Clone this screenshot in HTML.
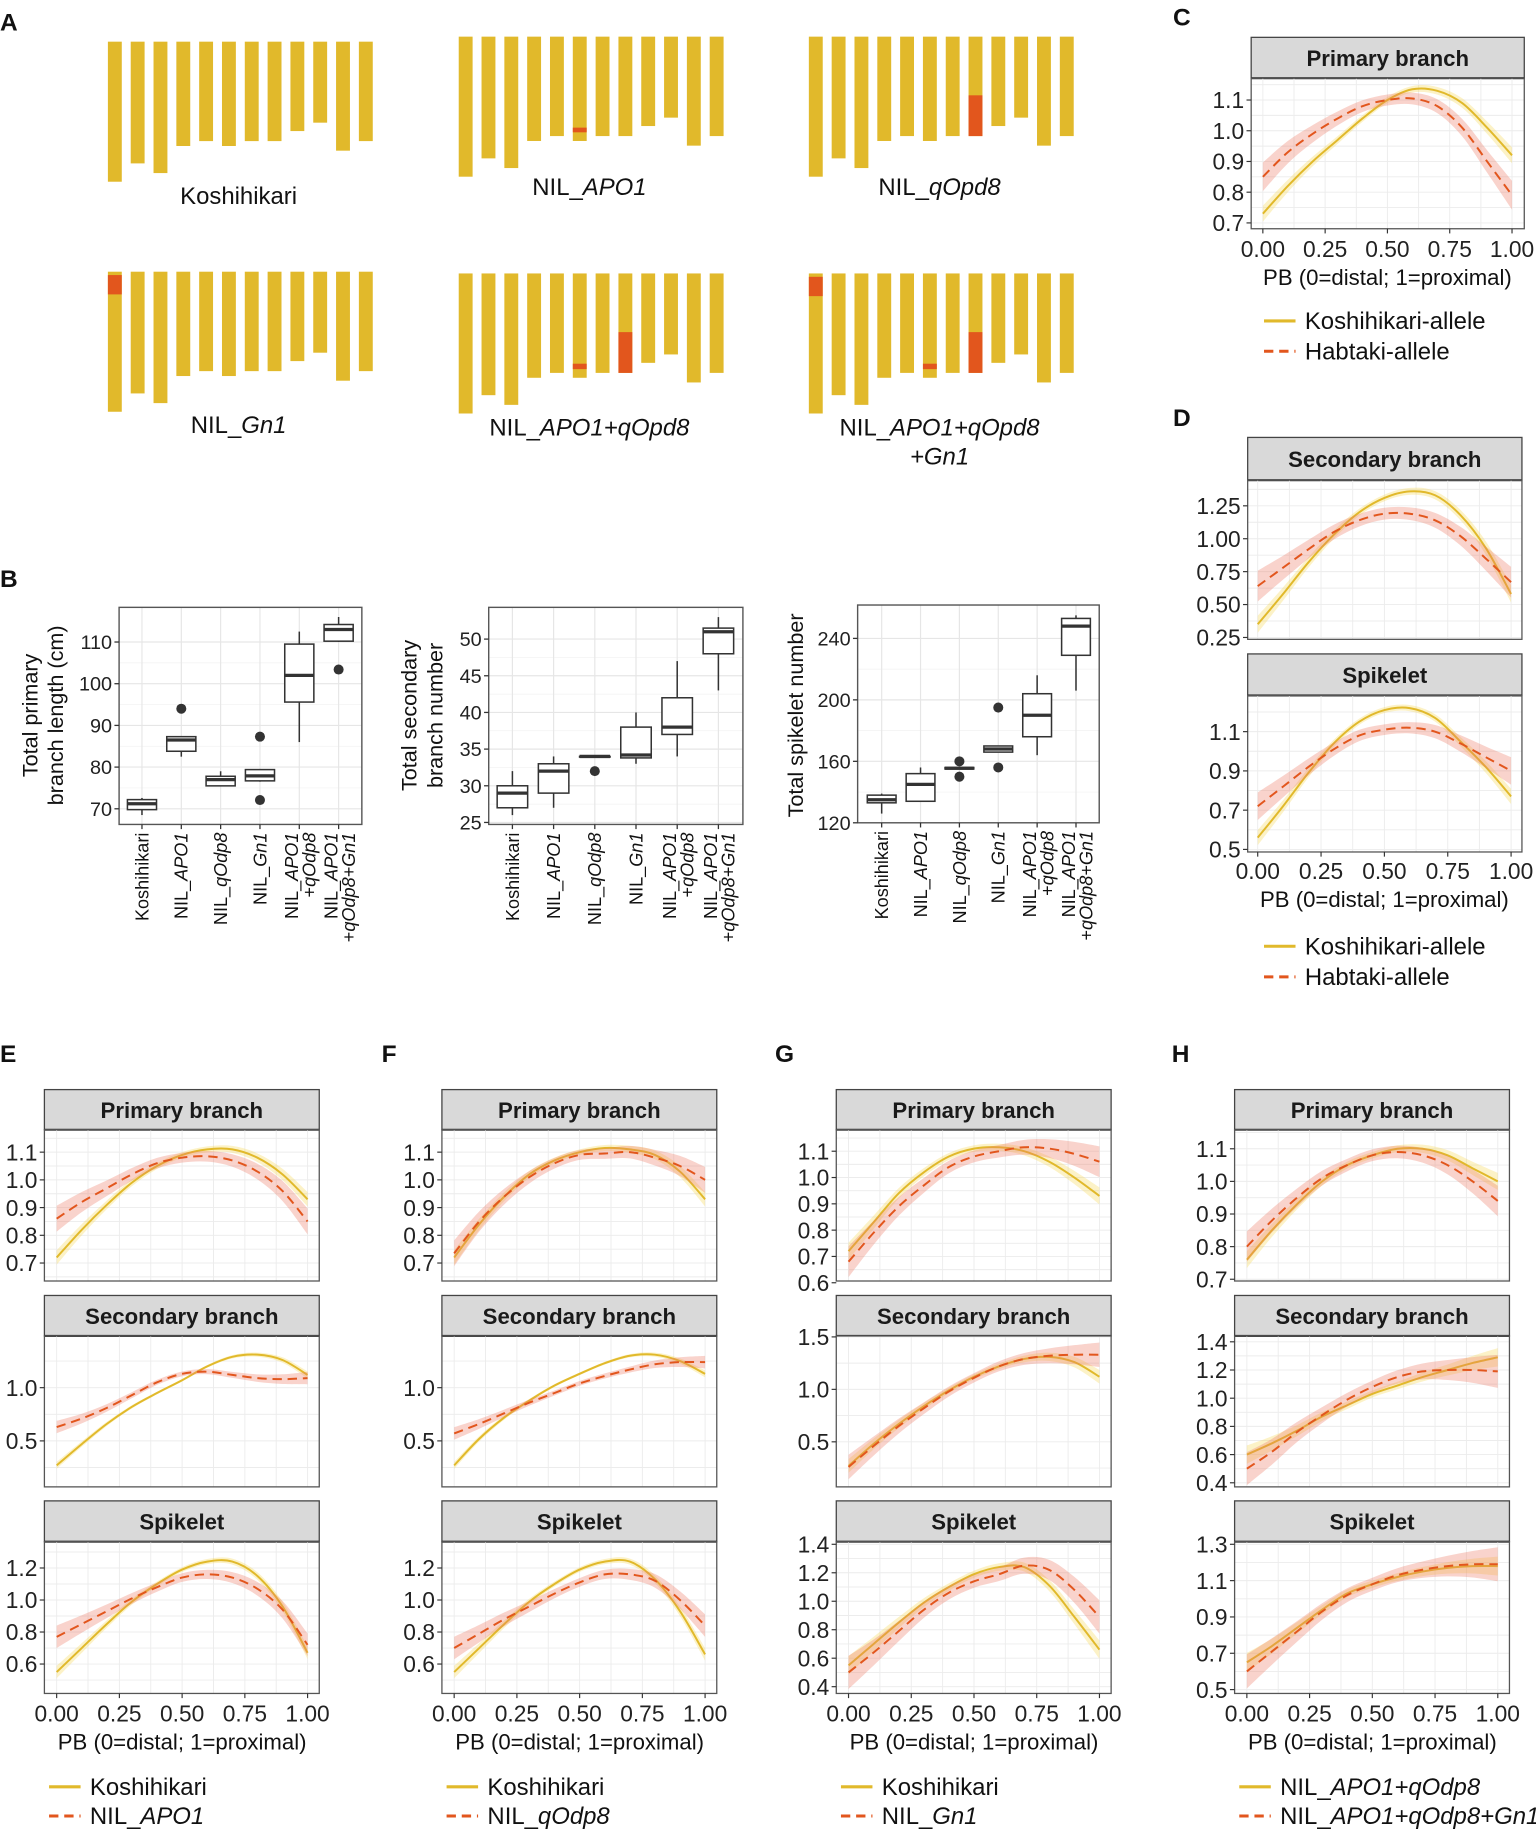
<!DOCTYPE html>
<html><head><meta charset="utf-8">
<style>
html,body{margin:0;padding:0;background:#fff;}
svg{display:block;font-family:"Liberation Sans",Arial,sans-serif;}
</style></head>
<body>
<svg id="fig" width="1536" height="1830" viewBox="0 0 1316 1568" xmlns="http://www.w3.org/2000/svg"></svg>
<script>
// ---------- DATA ----------
// Panel A chromosome lengths (display units) and introgression segments
const chromLengths = [120,104.3,112.6,89.4,85.2,89.4,85.2,85.2,76.6,69.4,93.4,85.2];
// Panel B
const bCategories = ["Koshihikari","NIL_APO1","NIL_qOdp8","NIL_Gn1","NIL_APO1+qOdp8","NIL_APO1+qOdp8+Gn1"];
const b1Stats = [[68.5,69.8,71.2,72.2,72.6],[82.5,83.8,86.5,87.3,87.3],[75.5,75.5,77,77.8,79],[76.5,76.7,77.9,79.4,79.4],[86,95.6,102,109.5,112.5],[110,110.2,113,114.2,116]];
const b1Outliers = [[],[94],[],[87.3,72.1],[],[103.4]];
const b1Ticks = [70,80,90,100,110];
const b2Stats = [[26,27,29,30,32],[27,29,32,33,34],[34,34,34,34,34],[33,33.8,34.2,38,40],[34,37,38,42,47],[43,48,51,51.5,53]];
const b2Outliers = [[],[],[32],[],[],[]];
const b2Ticks = [25,30,35,40,45,50];
const b3Stats = [[126,133,135,138,139],[134,134,145,152,156],[155,155,155.5,156,156],[166,166,168,170,170],[164,176,190,204,216],[206,229,248,253,255]];
const b3Outliers = [[],[],[160,150],[195,156],[],[]];
const b3Ticks = [120,160,200,240];
// Curve panels: PB positions
const pbPositions = [0,0.1,0.2,0.3,0.4,0.5,0.6,0.7,0.8,0.9,1.0];
const xTickValues = [0,0.25,0.5,0.75,1.0];
const xTickLabels = ["0.00","0.25","0.50","0.75","1.00"];
const cPrimK = [0.73,0.82,0.90,0.97,1.04,1.10,1.135,1.13,1.09,1.01,0.92];
const cPrimH = [0.85,0.93,0.99,1.04,1.08,1.10,1.105,1.08,1.01,0.90,0.79];
const dSecK = [0.35,0.58,0.82,1.03,1.20,1.31,1.36,1.33,1.18,0.93,0.58];
const dSecH = [0.64,0.78,0.92,1.05,1.14,1.19,1.19,1.14,1.02,0.85,0.67];
const dSpkK = [0.56,0.72,0.89,1.04,1.15,1.21,1.22,1.17,1.05,0.92,0.77];
const dSpkH = [0.72,0.82,0.92,1.01,1.08,1.11,1.12,1.10,1.04,0.97,0.90];
const ePrimK = [0.72,0.82,0.91,0.99,1.05,1.09,1.11,1.11,1.08,1.02,0.93];
const ePrimN = [0.86,0.92,0.97,1.02,1.06,1.08,1.085,1.07,1.03,0.96,0.85];
const eSecK = [0.27,0.47,0.66,0.82,0.95,1.07,1.20,1.29,1.31,1.26,1.12];
const eSecN = [0.63,0.71,0.81,0.93,1.05,1.13,1.15,1.12,1.09,1.08,1.09];
const eSpkK = [0.55,0.70,0.85,0.99,1.10,1.19,1.24,1.24,1.15,0.96,0.67];
const eSpkN = [0.77,0.85,0.93,1.01,1.08,1.14,1.16,1.14,1.07,0.94,0.72];
const fPrimK = [0.72,0.84,0.94,1.02,1.07,1.10,1.115,1.11,1.09,1.03,0.93];
const fPrimN = [0.735,0.85,0.94,1.01,1.06,1.09,1.095,1.10,1.08,1.05,1.00];
const fSecK = [0.27,0.52,0.72,0.88,1.02,1.13,1.23,1.30,1.31,1.25,1.13];
const fSecN = [0.57,0.66,0.76,0.86,0.95,1.04,1.11,1.17,1.22,1.24,1.24];
const fSpkK = [0.55,0.70,0.85,0.99,1.10,1.19,1.24,1.24,1.13,0.93,0.66];
const fSpkN = [0.70,0.79,0.88,0.96,1.04,1.11,1.16,1.16,1.12,1.00,0.84];
const gPrimK = [0.72,0.83,0.94,1.02,1.08,1.11,1.115,1.10,1.06,1.00,0.93];
const gPrimN = [0.68,0.79,0.89,0.97,1.04,1.08,1.10,1.115,1.11,1.09,1.06];
const gSecK = [0.27,0.48,0.67,0.84,0.99,1.12,1.22,1.29,1.31,1.26,1.12];
const gSecN = [0.26,0.46,0.65,0.82,0.98,1.11,1.22,1.29,1.32,1.33,1.33];
const gSpkK = [0.55,0.70,0.85,0.99,1.10,1.19,1.24,1.24,1.11,0.89,0.66];
const gSpkN = [0.50,0.64,0.79,0.94,1.06,1.14,1.19,1.25,1.22,1.08,0.89];
const hPrimK = [0.76,0.85,0.93,1.00,1.05,1.08,1.10,1.10,1.08,1.04,1.00];
const hPrimN = [0.80,0.88,0.95,1.01,1.05,1.08,1.09,1.08,1.05,1.00,0.94];
const hSecK = [0.60,0.68,0.77,0.87,0.95,1.03,1.09,1.15,1.20,1.25,1.29];
const hSecN = [0.50,0.62,0.76,0.88,0.99,1.08,1.15,1.19,1.20,1.20,1.19];
const hSpkK = [0.65,0.74,0.84,0.94,1.03,1.08,1.12,1.15,1.17,1.18,1.18];
const hSpkN = [0.60,0.71,0.82,0.93,1.02,1.08,1.13,1.16,1.18,1.19,1.19];

// ---------- HELPERS ----------
const NS = "http://www.w3.org/2000/svg";
const svg = document.getElementById("fig");
function mk(tag, attrs, parent){
  const e = document.createElementNS(NS, tag);
  for (const k in attrs) e.setAttribute(k, attrs[k]);
  (parent||svg).appendChild(e);
  return e;
}
function txt(str, x, y, size, opts, parent){
  opts = opts||{};
  const t = mk("text", {x:x, y:y, "font-size":size, fill:opts.fill||"#111", "text-anchor":opts.anchor||"start"}, parent);
  if (opts.weight) t.setAttribute("font-weight", opts.weight);
  if (opts.transform) t.setAttribute("transform", opts.transform);
  const parts = str.split("*");
  parts.forEach((p,i)=>{
    if(!p) return;
    const s = mk("tspan", {}, t);
    if (i%2===1) s.setAttribute("font-style","italic");
    s.textContent = p;
  });
  return t;
}
const YEL = "#e1b92b", RED = "#e2561d";

// panel letters
[["A",0,26],["B",0,503],["C",1005,22],["D",1005,365],["E",0,910],["F",327,910],["G",664,910],["H",1004,910]].forEach(l=>{
  const t = txt(l[0], l[1], l[2], 21, {weight:"bold"});
  
  
});

// ---------- PANEL A ----------
const genoGroups = [
  {x:92.4, top:35.7, label:["Koshihikari"], ly:175, segs:[]},
  {x:393, top:31.4, label:["NIL_*APO1*"], ly:167, segs:[[5,0.872,0.917]]},
  {x:693, top:31.4, label:["NIL_*qOpd8*"], ly:167, segs:[[7,0.59,1.0]]},
  {x:92.4, top:232.8, label:["NIL_*Gn1*"], ly:371, segs:[[0,0.024,0.162]]},
  {x:393, top:234.3, label:["NIL_*APO1+qOpd8*"], ly:373, segs:[[5,0.865,0.917],[7,0.59,1.0]]},
  {x:693, top:234.3, label:["NIL_*APO1+qOpd8*","*+Gn1*"], ly:373, segs:[[0,0.024,0.162],[5,0.865,0.917],[7,0.59,1.0]]}
];
genoGroups.forEach((g,gi)=>{
  const grp = mk("g", {});
  
  
  chromLengths.forEach((L,i)=>{
    const bx = g.x + i*19.55;
    const r = mk("rect", {x:bx, y:g.top, width:11.9, height:L, fill:YEL}, grp);
    
    
  });
  g.segs.forEach(s=>{
    const L = chromLengths[s[0]];
    const r = mk("rect", {x:g.x + s[0]*19.55, y:g.top + L*s[1], width:11.9, height:L*(s[2]-s[1]), fill:RED}, grp);
    
    
  });
  g.label.forEach((lb,li)=>{
    const t = txt(lb, g.x+112, g.ly + li*25, 20.5, {anchor:"middle"}, grp);
    
    
  });
});

// ---------- PANEL B ----------
const catLabels = [["Koshihikari"],["NIL_*APO1*"],["NIL_*qOdp8*"],["NIL_*Gn1*"],["NIL_*APO1*","+*qOdp8*"],["NIL_*APO1*","+*qOdp8+Gn1*"]];
function boxPanel(cfg, stats, outliers, ticks, name){
  const g = mk("g", {});
  
  
  const ys = v => cfg.yA[1] + (v-cfg.yA[0])*(cfg.yB[1]-cfg.yA[1])/(cfg.yB[0]-cfg.yA[0]);
  const xs = i => cfg.c0 + i*cfg.pitch;
  mk("rect", {x:cfg.left, y:cfg.top, width:cfg.right-cfg.left, height:cfg.bot-cfg.top, fill:"#fff"}, g);
  for (let i=0;i<ticks.length;i++){
    const y = ys(ticks[i]);
    mk("line",{x1:cfg.left,x2:cfg.right,y1:y,y2:y,stroke:"#e6e6e6","stroke-width":1},g);
    if (i<ticks.length-1){ const ym = ys((ticks[i]+ticks[i+1])/2); mk("line",{x1:cfg.left,x2:cfg.right,y1:ym,y2:ym,stroke:"#f2f2f2","stroke-width":0.6},g); }
  }
  bCategories.forEach((c,i)=>{ mk("line",{x1:xs(i),x2:xs(i),y1:cfg.top,y2:cfg.bot,stroke:"#e6e6e6","stroke-width":1},g); });
  const bw = cfg.pitch*0.74;
  stats.forEach((s,i)=>{
    const x = xs(i);
    const bg = mk("g",{},g);
    
    
    mk("line",{x1:x,x2:x,y1:ys(s[0]),y2:ys(s[4]),stroke:"#333","stroke-width":1.3},bg);
    mk("rect",{x:x-bw/2,y:ys(s[3]),width:bw,height:Math.max(ys(s[1])-ys(s[3]),0.5),fill:"#fff",stroke:"#333","stroke-width":1.3},bg);
    mk("line",{x1:x-bw/2,x2:x+bw/2,y1:ys(s[2]),y2:ys(s[2]),stroke:"#333","stroke-width":2.8},bg);
    outliers[i].forEach(o=>{
      const c = mk("circle",{cx:x,cy:ys(o),r:4.3,fill:"#333"},bg);
      
      
    });
  });
  mk("rect", {x:cfg.left, y:cfg.top, width:cfg.right-cfg.left, height:cfg.bot-cfg.top, fill:"none", stroke:"#555", "stroke-width":1.2}, g);
  ticks.forEach(t=>{
    const y = ys(t);
    mk("line",{x1:cfg.left-4,x2:cfg.left,y1:y,y2:y,stroke:"#333","stroke-width":1.1},g);
    const l = txt(String(t), cfg.left-6, y+6, 17, {anchor:"end", fill:"#222"}, g);
    
    
  });
  catLabels.forEach((lb,i)=>{
    const x = xs(i);
    mk("line",{x1:x,x2:x,y1:cfg.bot,y2:cfg.bot+4,stroke:"#333","stroke-width":1.1},g);
    lb.forEach((line,li)=>{
      const bx = lb.length===1 ? x+5.5 : x-1+li*15;
      const t = txt(line, bx, cfg.bot+7, 15.5, {anchor:"end", transform:`rotate(-90 ${bx} ${cfg.bot+7})`, fill:"#111"}, g);
      
      
    });
  });
  cfg.ytitle.forEach((line,li)=>{
    const tx = cfg.tx + li*22;
    const t = txt(line, tx, cfg.ty, 18.5, {anchor:"middle", transform:`rotate(-90 ${tx} ${cfg.ty})`, fill:"#111"}, g);
    
    
  });
}
boxPanel({left:102,right:310,top:520.4,bot:706.4,yA:[110,550.1],yB:[70,693],c0:121.6,pitch:33.7,tx:32,ty:613,ytitle:["Total primary","branch length (cm)"]}, b1Stats, b1Outliers, b1Ticks, "boxplot-primary-length");
boxPanel({left:418.7,right:636.5,top:520.4,bot:706.4,yA:[50,547.6],yB:[25,704.7],c0:439,pitch:35.3,tx:357,ty:613,ytitle:["Total secondary","branch number"]}, b2Stats, b2Outliers, b2Ticks, "boxplot-secondary-number");
boxPanel({left:734.8,right:941.8,top:518.4,bot:705,yA:[240,547],yB:[120,705],c0:755.4,pitch:33.3,tx:688,ty:613,ytitle:["Total spikelet number"]}, b3Stats, b3Outliers, b3Ticks, "boxplot-spikelet-number");

// ---------- CURVE FACETS ----------
function smoothPath(pts){
  let d = `M${pts[0][0]},${pts[0][1]}`;
  for (let i=0;i<pts.length-1;i++){
    const p0 = pts[Math.max(i-1,0)], p1 = pts[i], p2 = pts[i+1], p3 = pts[Math.min(i+2,pts.length-1)];
    const c1 = [p1[0]+(p2[0]-p0[0])/6, p1[1]+(p2[1]-p0[1])/6];
    const c2 = [p2[0]-(p3[0]-p1[0])/6, p2[1]-(p3[1]-p1[1])/6];
    d += ` C${c1[0]},${c1[1]} ${c2[0]},${c2[1]} ${p2[0]},${p2[1]}`;
  }
  return d;
}
function facet(cfg, k, n, name){
  const g = mk("g", {});
  
  
  const ys = v => cfg.ya[1] + (v-cfg.ya[0])*(cfg.yb[1]-cfg.ya[1])/(cfg.yb[0]-cfg.ya[0]);
  const xs = v => cfg.x0 + v*(cfg.x1-cfg.x0);
  const range = Math.abs(cfg.ya[0]-cfg.yb[0]);
  const st = mk("rect",{x:cfg.left,y:cfg.stripTop,width:cfg.right-cfg.left,height:cfg.stripBot-cfg.stripTop,fill:"#d9d9d9",stroke:"#444","stroke-width":1.1},g);
  
  
  const tt = txt(cfg.title, (cfg.left+cfg.right)/2, cfg.stripTop+(cfg.stripBot-cfg.stripTop)/2+7, 19, {anchor:"middle", weight:"bold", fill:"#1a1a1a"}, g);
  
  
  mk("line",{x1:cfg.left,x2:cfg.right,y1:cfg.stripBot,y2:cfg.stripBot,stroke:"#333","stroke-width":1.8},g);
  const clipId = "clip"+name;
  const cp = mk("clipPath",{id:clipId},g);
  mk("rect",{x:cfg.left,y:cfg.stripBot,width:cfg.right-cfg.left,height:cfg.plotBot-cfg.stripBot},cp);
  const inner = mk("g",{"clip-path":`url(#${clipId})`},g);
  const tv = cfg.ticks;
  const step = tv[1]-tv[0];
  for (let v=tv[0]-step; v<=tv[tv.length-1]+step*1.01; v+=step/2){
    const y = ys(v);
    mk("line",{x1:cfg.left,x2:cfg.right,y1:y,y2:y,stroke:"#ececec","stroke-width":0.8},inner);
  }
  for (let v=0; v<=1.0001; v+=0.125){
    mk("line",{x1:xs(v),x2:xs(v),y1:cfg.stripBot,y2:cfg.plotBot,stroke:"#ececec","stroke-width":0.8},inner);
  }
  [[k,"rgba(245,215,80,0.32)",0.025,YEL,"none","k"],[n,"rgba(238,120,100,0.33)",0.045,RED,"8,5","n"]].forEach(sr=>{
    const vals = sr[0];
    const up = [], lo = [], mid = [];
    pbPositions.forEach((p,i)=>{
      const hw = sr[2]*range*(1+1.6*Math.pow(2*Math.abs(p-0.5),2));
      up.push([xs(p), ys(vals[i]+hw)]);
      lo.push([xs(p), ys(vals[i]-hw)]);
      mid.push([xs(p), ys(vals[i])]);
    });
    const rib = mk("path",{d: smoothPath(up) + " L" + smoothPath(lo.slice().reverse()).slice(1) + " Z", fill:sr[1], stroke:"none"},inner);
    
    
    const ln = mk("path",{d:smoothPath(mid), fill:"none", stroke:sr[3], "stroke-width":1.7, "stroke-dasharray":sr[4]},inner);
    
    
  });
  mk("rect",{x:cfg.left,y:cfg.stripBot,width:cfg.right-cfg.left,height:cfg.plotBot-cfg.stripBot,fill:"none",stroke:"#555","stroke-width":1.1},g);
  tv.forEach((v,i)=>{
    const y = ys(v);
    mk("line",{x1:cfg.left-4,x2:cfg.left,y1:y,y2:y,stroke:"#333","stroke-width":1},g);
    const l = txt(cfg.tickLabels[i], cfg.left-6, y+7, 19.5, {anchor:"end", fill:"#222"}, g);
    
    
  });
  if (cfg.xlab){
    xTickValues.forEach((v,i)=>{
      mk("line",{x1:xs(v),x2:xs(v),y1:cfg.plotBot,y2:cfg.plotBot+4,stroke:"#333","stroke-width":1},g);
      const l = txt(xTickLabels[i], xs(v), cfg.xlab, 19.5, {anchor:"middle", fill:"#222"}, g);
      
      
    });
    const xt = txt("PB (0=distal; 1=proximal)", (cfg.x0+cfg.x1)/2, cfg.xlab+24, 19, {anchor:"middle", fill:"#111"}, g);
    
    
  }
}
function legend(x, y1, y2, lab1, lab2, name){
  const g = mk("g",{});
  
  
  mk("line",{x1:x,x2:x+27,y1:y1,y2:y1,stroke:YEL,"stroke-width":2.6},g);
  mk("line",{x1:x,x2:x+27,y1:y2,y2:y2,stroke:RED,"stroke-width":2.6,"stroke-dasharray":"8,5"},g);
  const a = txt(lab1, x+35, y1+7, 20.5, {fill:"#111"}, g);
  
  
  const b = txt(lab2, x+35, y2+7, 20.5, {fill:"#111"}, g);
  
  
}
const t1 = ["0.7","0.8","0.9","1.0","1.1"];
facet({title:"Primary branch",left:1072,right:1306,x0:1082,x1:1295.5,stripTop:32,stripBot:67,plotBot:196,ticks:[0.7,0.8,0.9,1.0,1.1],tickLabels:t1,ya:[1.1,85.7],yb:[0.7,191],xlab:220}, cPrimK, cPrimH, "panel-c-primary");
legend(1083, 275, 301, "Koshihikari-allele", "Habtaki-allele", "legend-c");
facet({title:"Secondary branch",left:1069,right:1304,x0:1077.6,x1:1294.7,stripTop:374.8,stripBot:411.4,plotBot:547.8,ticks:[0.25,0.5,0.75,1.0,1.25],tickLabels:["0.25","0.50","0.75","1.00","1.25"],ya:[1.25,433.4],yb:[0.25,546.2]}, dSecK, dSecH, "panel-d-secondary");
facet({title:"Spikelet",left:1069,right:1304,x0:1077.6,x1:1294.7,stripTop:560.3,stripBot:595.9,plotBot:730,ticks:[0.5,0.7,0.9,1.1],tickLabels:["0.5","0.7","0.9","1.1"],ya:[1.1,626.9],yb:[0.5,727.8],xlab:753}, dSpkK, dSpkH, "panel-d-spikelet");
legend(1083, 810.8, 837, "Koshihikari-allele", "Habtaki-allele", "legend-d");

const colLefts = [38,378.6,716.5,1057.8];
const rows = [[933.6,968,1097.6],[1110,1144.7,1274],[1286,1321,1451]];
const titles = ["Primary branch","Secondary branch","Spikelet"];
const colData = [
  [[ePrimK,ePrimN],[eSecK,eSecN],[eSpkK,eSpkN]],
  [[fPrimK,fPrimN],[fSecK,fSecN],[fSpkK,fSpkN]],
  [[gPrimK,gPrimN],[gSecK,gSecN],[gSpkK,gSpkN]],
  [[hPrimK,hPrimN],[hSecK,hSecN],[hSpkK,hSpkN]]
];
const colTicks = [
  [{t:[0.7,0.8,0.9,1.0,1.1],l:t1,a:[1.1,987.2],b:[0.7,1082.2]},{t:[0.5,1.0],l:["0.5","1.0"],a:[1.0,1189],b:[0.5,1234.6]},{t:[0.6,0.8,1.0,1.2],l:["0.6","0.8","1.0","1.2"],a:[1.2,1343.5],b:[0.6,1425.8]}],
  [{t:[0.7,0.8,0.9,1.0,1.1],l:t1,a:[1.1,987.2],b:[0.7,1082.2]},{t:[0.5,1.0],l:["0.5","1.0"],a:[1.0,1189],b:[0.5,1234.6]},{t:[0.6,0.8,1.0,1.2],l:["0.6","0.8","1.0","1.2"],a:[1.2,1343.5],b:[0.6,1425.8]}],
  [{t:[0.6,0.7,0.8,0.9,1.0,1.1],l:["0.6","0.7","0.8","0.9","1.0","1.1"],a:[1.1,986.4],b:[0.6,1099.1]},{t:[0.5,1.0,1.5],l:["0.5","1.0","1.5"],a:[1.5,1145.5],b:[0.5,1235.4]},{t:[0.4,0.6,0.8,1.0,1.2,1.4],l:["0.4","0.6","0.8","1.0","1.2","1.4"],a:[1.4,1323.2],b:[0.4,1445.2]}],
  [{t:[0.7,0.8,0.9,1.0,1.1],l:t1,a:[1.1,984.3],b:[0.7,1096.1]},{t:[0.4,0.6,0.8,1.0,1.2,1.4],l:["0.4","0.6","0.8","1.0","1.2","1.4"],a:[1.4,1149.7],b:[0.4,1270.5]},{t:[0.5,0.7,0.9,1.1,1.3],l:["0.5","0.7","0.9","1.1","1.3"],a:[1.3,1323.2],b:[0.5,1447.7]}]
];
const legendLabels = [["Koshihikari","NIL_*APO1*"],["Koshihikari","NIL_*qOdp8*"],["Koshihikari","NIL_*Gn1*"],["NIL_*APO1+qOdp8*","NIL_*APO1+qOdp8+Gn1*"]];
const colNames = ["e","f","g","h"];
colLefts.forEach((L,ci)=>{
  rows.forEach((r,ri)=>{
    const tk = colTicks[ci][ri];
    facet({title:titles[ri],left:L,right:L+235.5,x0:L+10.5,x1:L+225.5,stripTop:r[0],stripBot:r[1],plotBot:r[2],ticks:tk.t,tickLabels:tk.l,ya:tk.a,yb:tk.b,xlab: ri===2 ? 1475 : 0}, colData[ci][ri][0], colData[ci][ri][1], "panel-"+colNames[ci]+"-"+["primary","secondary","spikelet"][ri]);
  });
  legend(L+4, 1531, 1556, legendLabels[ci][0], legendLabels[ci][1], "legend-"+colNames[ci]);
});
</script>
</body></html>
